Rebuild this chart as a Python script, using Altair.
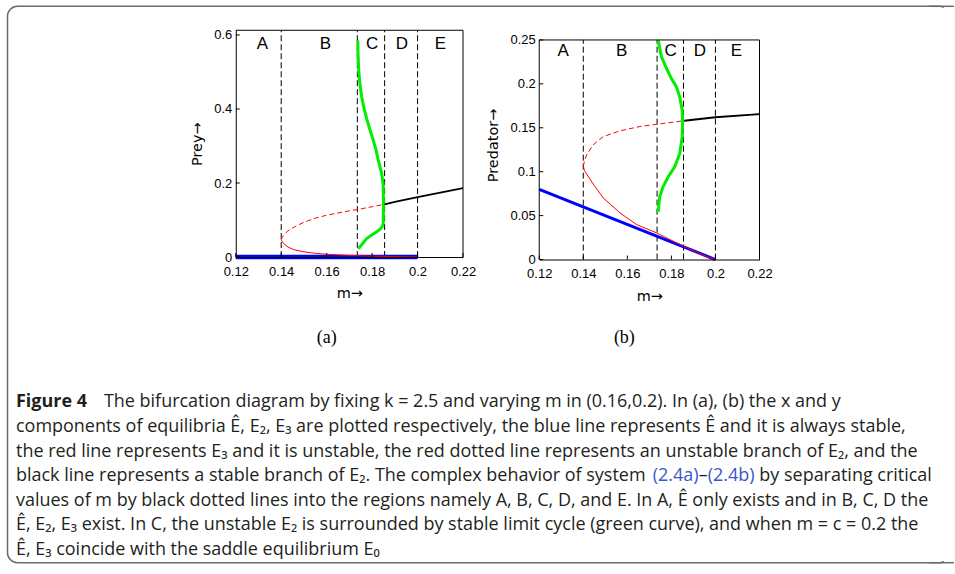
import altair as alt
import pandas as pd

# ---------------- data ----------------
m_ticks = [0.12, 0.14, 0.16, 0.18, 0.2, 0.22]
prey_ticks = [0, 0.2, 0.4, 0.6]
pred_ticks = [0, 0.05, 0.1, 0.15, 0.2, 0.25]
critical_m = [0.14, 0.1735, 0.1855, 0.2]
region_names = ["A", "B", "C", "D", "E"]
region_m_a = [0.1317, 0.1594, 0.1800, 0.1931, 0.2101]
region_m_b = [0.1309, 0.1574, 0.1797, 0.1929, 0.2095]

# panel (a): prey component
a_hat_m = [0.12, 0.2]
a_hat_y = [0.0, 0.0]
a_e3_m = [0.1400, 0.1405, 0.1415, 0.1430, 0.1455, 0.1500, 0.1550, 0.1600, 0.1650, 0.1700, 0.1750, 0.1800, 0.1900, 0.2000]
a_e3_y = [0.047, 0.041, 0.034, 0.027, 0.020, 0.014, 0.010, 0.0075, 0.0058, 0.0045, 0.0035, 0.0025, 0.0012, 0.0]
a_e2u_m = [0.1400, 0.1405, 0.1415, 0.1430, 0.1460, 0.1500, 0.1550, 0.1600, 0.1650, 0.1700, 0.1750, 0.1800, 0.1855]
a_e2u_y = [0.047, 0.054, 0.062, 0.071, 0.082, 0.094, 0.105, 0.113, 0.119, 0.125, 0.130, 0.136, 0.1425]
a_e2s_m = [0.1855, 0.1900, 0.2000, 0.2100, 0.2200]
a_e2s_y = [0.1425, 0.1490, 0.1620, 0.1740, 0.1860]
a_cyc_m = [0.1737, 0.1738, 0.1740, 0.1742, 0.1748, 0.1754, 0.1765, 0.1776, 0.1790, 0.1805, 0.1817, 0.1827,
           0.1842, 0.1849, 0.1850, 0.1849, 0.1845, 0.1835, 0.1820, 0.1800, 0.1776, 0.1760, 0.1739]
a_cyc_y = [0.585, 0.550, 0.520, 0.496, 0.460, 0.433, 0.400, 0.374, 0.345, 0.316, 0.290, 0.262,
           0.226, 0.194, 0.140, 0.091, 0.083, 0.075, 0.068, 0.060, 0.050, 0.038, 0.022]

# panel (b): predator component
b_hat_m = [0.12, 0.2]
b_hat_y = [0.08, 0.0]
b_e3_m = [0.1400, 0.1405, 0.1415, 0.1445, 0.1491, 0.1567, 0.1642, 0.1733, 0.1809, 0.1870, 0.1930, 0.2000]
b_e3_y = [0.106, 0.1015, 0.0975, 0.0860, 0.0700, 0.0530, 0.0398, 0.0303, 0.0208, 0.0133, 0.0064, 0.0]
b_e2u_m = [0.1400, 0.1405, 0.1415, 0.1445, 0.1491, 0.1567, 0.1658, 0.1733, 0.1858]
b_e2u_y = [0.106, 0.112, 0.119, 0.1307, 0.1400, 0.1466, 0.1515, 0.1540, 0.1580]
b_e2s_m = [0.1858, 0.2000, 0.2200]
b_e2s_y = [0.1580, 0.1620, 0.1655]
b_cyc_m = [0.1740, 0.1755, 0.1778, 0.1800, 0.1823, 0.1838, 0.1849, 0.1851, 0.1849, 0.1838, 0.1815, 0.1785,
           0.1762, 0.1747, 0.1740]
b_cyc_y = [0.2497, 0.2307, 0.2175, 0.2060, 0.1966, 0.1850, 0.1700, 0.1566, 0.1396, 0.1207, 0.1055, 0.0940,
           0.0827, 0.0714, 0.0543]

caption_head = "Figure 4"
caption_lines = [
    "The bifurcation diagram by fixing k = 2.5 and varying m in (0.16,0.2). In (a), (b) the x and y",
    "components of equilibria Ê, E₂, E₃ are plotted respectively, the blue line represents Ê and it is always stable,",
    "the red line represents E₃ and it is unstable, the red dotted line represents an unstable branch of E₂, and the",
    None,
    "values of m by black dotted lines into the regions namely A, B, C, D, and E. In A, Ê only exists and in B, C, D the",
    "Ê, E₂, E₃ exist. In C, the unstable E₂ is surrounded by stable limit cycle (green curve), and when m = c = 0.2 the",
    "Ê, E₃ coincide with the saddle equilibrium E₀",
]
line4_parts = ["black line represents a stable branch of E₂. The complex behavior of system", "(2.4a)", "–", "(2.4b)",
               "by separating critical"]

# ---------------- layout (pixels) ----------------
SANS = "Liberation Sans"
TITLE_FONT = "DejaVu Sans"
CAP = "Open Sans"
OX, OY = 236, 30
WA, HA = 227.5, 227
WB, HB = 220.5, 229.5
YMAX_A = 0.6127
YTOP_B = 0.25
YMAX_B = 0.25 * HB / 219.8
COL_GAP = 539.3 - OX - WA
ROW_GAP = 10
CY = OY + HB + ROW_GAP
ARROW = "→"


def df(m, y):
    return pd.DataFrame({"m": m, "y": y, "o": list(range(len(m)))})


def panel(width, height, ymax, ytop, yticks, ytitle, hat, e3, e2u, e2s, cyc, region_m, ylab,
          ylab_pad, xlab_pad, ytitle_pad, hat_w, left_border, extra=None):
    xs = alt.Scale(domain=[0.12, 0.22], nice=False)
    ys = alt.Scale(domain=[0, ymax], nice=False)
    X = alt.X("m:Q", scale=xs, axis=alt.Axis(
        values=m_ticks, format="~g", title="m" + ARROW, ticks=False, grid=False, domainColor="black",
        domainWidth=1, labelFont=SANS, labelFontSize=13, labelColor="black", labelPadding=xlab_pad,
        labelFlush=False, labelOverlap=False, titleFont=TITLE_FONT, titleFontSize=14.5, titleFontWeight="normal",
        titleColor="black", titlePadding=9, zindex=1))
    Y = alt.Y("y:Q", scale=ys, axis=alt.Axis(
        values=yticks, format="~g", title=ytitle + ARROW, ticks=False, grid=False, domain=not left_border,
        domainColor="black", domainWidth=1, labelFont=SANS, labelFontSize=13, labelColor="black",
        labelPadding=ylab_pad, labelFlush=False, labelOverlap=False, titleFont=TITLE_FONT, titleFontSize=14.5,
        titleFontWeight="normal", titleColor="black", titlePadding=ytitle_pad, zindex=1))
    layers = []
    if extra is not None:
        layers.append(extra)
    vdf = pd.DataFrame({"m": critical_m, "y": [0.0] * len(critical_m), "y2": [ytop] * len(critical_m)})
    layers.append(alt.Chart(vdf).mark_rule(color="black", strokeWidth=1, strokeDash=[6, 3]).encode(
        x=X, y=Y, y2="y2:Q"))
    layers.append(alt.Chart(df(*hat)).mark_line(color="#0000ff", strokeWidth=hat_w).encode(x=X, y=Y, order="o:Q"))
    layers.append(alt.Chart(df(*e3)).mark_line(color="#ff0000", strokeWidth=1).encode(x=X, y=Y, order="o:Q"))
    layers.append(alt.Chart(df(*e2u)).mark_line(color="#ff0000", strokeWidth=1, strokeDash=[5, 3]).encode(
        x=X, y=Y, order="o:Q"))
    layers.append(alt.Chart(df(*cyc)).mark_line(color="#00ee00", strokeWidth=3).encode(x=X, y=Y, order="o:Q"))
    layers.append(alt.Chart(df(*e2s)).mark_line(color="black", strokeWidth=1.8).encode(x=X, y=Y, order="o:Q"))
    ldf = pd.DataFrame({"m": region_m, "y": [ylab] * 5, "t": region_names})
    layers.append(alt.Chart(ldf).mark_text(font=SANS, fontSize=17, color="black", baseline="middle").encode(
        x=X, y=Y, text="t:N"))
    # frame: top and right (and left) borders
    layers.append(alt.Chart(pd.DataFrame({"m": [0.12], "m2": [0.22], "y": [ytop]})).mark_rule(
        color="black", strokeWidth=1).encode(x=X, x2="m2:Q", y=Y))
    bdf = pd.DataFrame({"m": [0.22] + ([0.12] if left_border else []),
                        "y": [0.0] * (2 if left_border else 1), "y2": [ytop] * (2 if left_border else 1)})
    layers.append(alt.Chart(bdf).mark_rule(color="black", strokeWidth=1).encode(x=X, y=Y, y2="y2:Q"))
    # inward ticks
    layers.append(alt.Chart(pd.DataFrame({"m": m_ticks})).mark_rule(color="black", strokeWidth=1).encode(
        x=X, y=alt.value(height), y2=alt.value(height - 4)))
    layers.append(alt.Chart(pd.DataFrame({"y": yticks})).mark_rule(color="black", strokeWidth=1).encode(
        y=Y, x=alt.value(0), x2=alt.value(4)))
    return alt.layer(*layers).properties(width=width, height=height)


one = pd.DataFrame({"k": [0]})
page_bg = alt.Chart(one).mark_rect(color="white").encode(
    x=alt.value(-OX), x2=alt.value(955 - OX), y=alt.value(-OY), y2=alt.value(574 - OY))

panel_a = panel(WA, HA, YMAX_A, YMAX_A, prey_ticks, "Prey",
                (a_hat_m, a_hat_y), (a_e3_m, a_e3_y), (a_e2u_m, a_e2u_y), (a_e2s_m, a_e2s_y),
                (a_cyc_m, a_cyc_y), region_m_a, YMAX_A - 13.8 / (HA / YMAX_A),
                4, 8, 9, 4.5, False, extra=page_bg)
panel_b = panel(WB, HB, YMAX_B, YTOP_B, pred_ticks, "Predator",
                (b_hat_m, b_hat_y), (b_e3_m, b_e3_y), (b_e2u_m, b_e2u_y), (b_e2s_m, b_e2s_y),
                (b_cyc_m, b_cyc_y), region_m_b, YTOP_B - 11 / (HB / YMAX_B),
                4, 8, 9, 3, True)

# ---------------- caption / frame ----------------
cap_layers = []
cap_layers.append(alt.Chart(one).mark_rect(filled=False, stroke="#6b6b6b", strokeWidth=1.5, cornerRadius=10).encode(
    x=alt.value(7.5 - OX), x2=alt.value(951 - OX), y=alt.value(5.5 - CY), y2=alt.value(562.5 - CY)))
cap_layers.append(alt.Chart(one).mark_rect(color="white").encode(
    x=alt.value(945 - OX), x2=alt.value(955 - OX), y=alt.value(0 - CY), y2=alt.value(574 - CY)))
for yy in (5.5, 562.5):
    cap_layers.append(alt.Chart(one).mark_rule(color="#6b6b6b", strokeWidth=1.5).encode(
        x=alt.value(930 - OX), x2=alt.value(955 - OX), y=alt.value(yy - CY)))

for lab, px in (("(a)", 327), ("(b)", 625)):
    cap_layers.append(alt.Chart(one).mark_text(text=lab, font="Liberation Serif", fontSize=18, color="black",
                                               align="center", baseline="middle").encode(
        x=alt.value(px - OX), y=alt.value(338 - CY)))

CAP_SIZE = 18
L0, DL = 402, 24.6
TXT = "#231f20"
cap_layers.append(alt.Chart(one).mark_text(text=caption_head, font=CAP, fontSize=CAP_SIZE, fontWeight="bold",
                                           color=TXT, align="left", baseline="middle").encode(
    x=alt.value(16 - OX), y=alt.value(L0 - CY)))
for i, line in enumerate(caption_lines):
    if line is None:
        continue
    x0 = 104 if i == 0 else 16
    cap_layers.append(alt.Chart(one).mark_text(text=line, font=CAP, fontSize=CAP_SIZE, color=TXT,
                                               align="left", baseline="middle").encode(
        x=alt.value(x0 - OX), y=alt.value(L0 + DL * i - CY)))

# line 4: widths estimated from Open Sans advance widths (em) at CAP_SIZE
em = CAP_SIZE
w_seg1 = 580 * CAP_SIZE / 16.5
sp = 0.26 * em
x_a = 16 + w_seg1 + sp
x_dash = x_a + 2.556 * em
x_b = x_dash + 0.5 * em
x_end = x_b + 2.612 * em + sp
parts_x = [16, x_a, x_dash, x_b, x_end]
parts_col = [TXT, "#3a56c8", TXT, "#3a56c8", TXT]
for t, px, col in zip(line4_parts, parts_x, parts_col):
    cap_layers.append(alt.Chart(one).mark_text(text=t, font=CAP, fontSize=CAP_SIZE, color=col,
                                               align="left", baseline="middle").encode(
        x=alt.value(px - OX), y=alt.value(L0 + DL * 3 - CY)))

caption = alt.layer(*cap_layers).properties(width=1, height=1)

chart = alt.ConcatChart(
    concat=[panel_a, panel_b, caption], columns=2,
    spacing={"row": ROW_GAP, "column": COL_GAP}, bounds="flush",
).properties(padding=0, background="white").configure_view(stroke=None)

chart.save("out.html", embed_options={"renderer": "svg", "actions": False})
